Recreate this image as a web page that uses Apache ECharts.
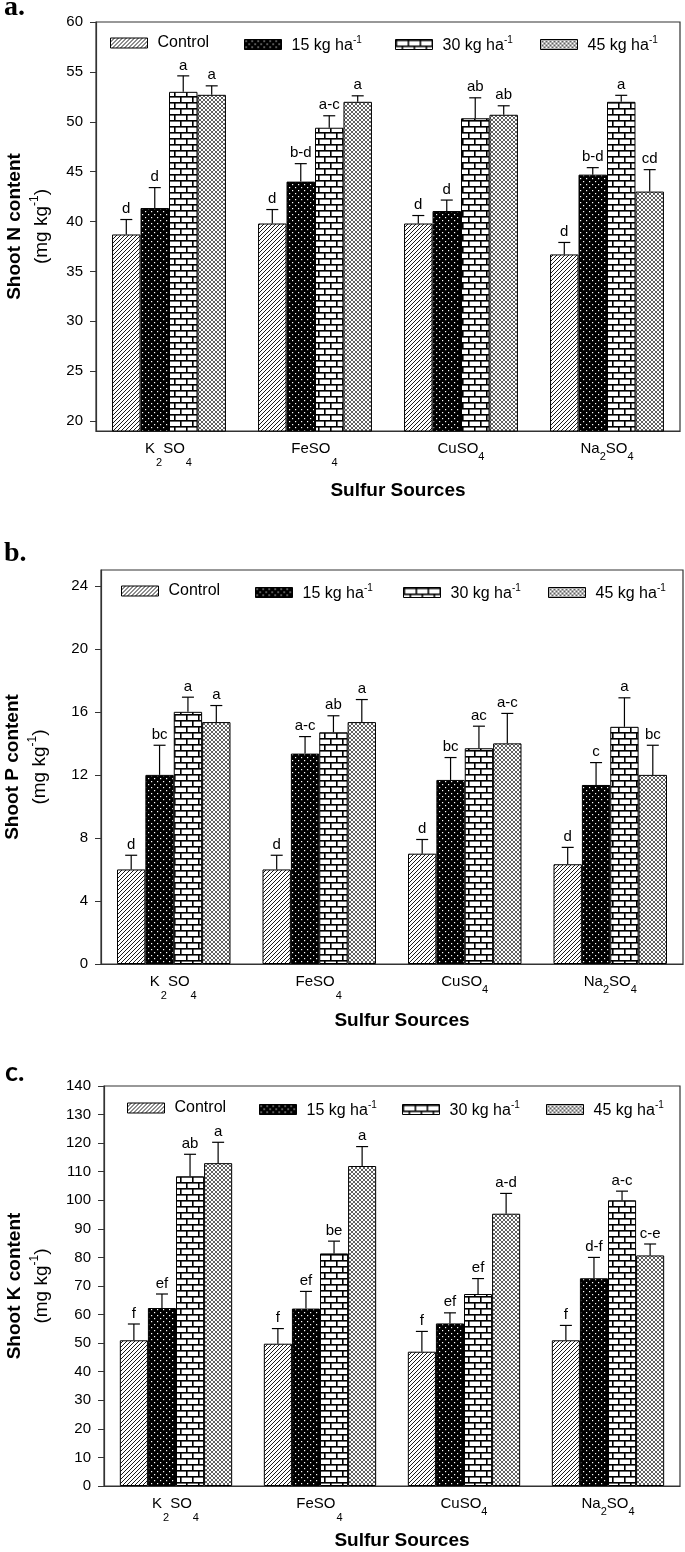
<!DOCTYPE html>
<html><head><meta charset="utf-8">
<script src="https://cdn.jsdelivr.net/npm/echarts@6/dist/echarts.min.js"></script>
<style>html,body{margin:0;padding:0;background:#fff}#c{width:685px;height:1552px}</style>
</head><body><div id="c"></div>
<script>
// ---------- data ----------
const categories = ['K2SO4', 'FeSO4', 'CuSO4', 'Na2SO4'];
const categoryLabels = ['{m|K}{lo|2}{m|SO}{lo|4}', '{m|FeSO}{lo|4}', '{m|CuSO}{sub|4}', '{m|Na}{sub|2}{m|SO}{sub|4}'];
const treatments = ['Control', '15 kg ha-1', '30 kg ha-1', '45 kg ha-1'];
const treatmentLabels = ['{t|Control}', '{t|15 kg ha}{s|-1}', '{t|30 kg ha}{s|-1}', '{t|45 kg ha}{s|-1}'];

// Panel a: Shoot N content (mean, top of error bar, letters)
const nControl = [38.7, 39.8, 39.8, 36.7];
const nControlErr = [40.2, 41.2, 40.6, 37.9];
const n15 = [41.35, 44.0, 41.05, 44.7];
const n15Err = [43.4, 45.8, 42.15, 45.4];
const n30 = [53.0, 49.4, 50.35, 52.0];
const n30Err = [54.6, 50.6, 52.4, 52.65];
const n45 = [52.7, 52.0, 50.7, 43.0];
const n45Err = [53.6, 52.6, 51.6, 45.2];
const nLetters = [['d','d','d','d'], ['d','b-d','d','b-d'], ['a','a-c','ab','a'], ['a','a','ab','cd']];
const nTicks = [20, 25, 30, 35, 40, 45, 50, 55, 60];

// Panel b: Shoot P content
const pControl = [6.0, 6.0, 7.0, 6.33];
const pControlErr = [6.9, 6.9, 7.9, 7.4];
const p15 = [12.0, 13.35, 11.68, 11.36];
const p15Err = [13.88, 14.43, 13.1, 12.78];
const p30 = [16.0, 14.7, 13.69, 15.05];
const p30Err = [16.93, 15.75, 15.09, 16.89];
const p45 = [15.35, 15.35, 14.0, 12.0];
const p45Err = [16.4, 16.78, 15.9, 13.88];
const pLetters = [['d','d','d','d'], ['bc','a-c','bc','c'], ['a','ab','ac','a'], ['a','a','a-c','bc']];
const pTicks = [0, 4, 8, 12, 16, 20, 24];

// Panel c: Shoot K content
const kControl = [51.0, 49.8, 47.0, 51.0];
const kControlErr = [56.7, 55.1, 54.1, 56.2];
const k15 = [62.3, 62.1, 56.9, 72.7];
const k15Err = [67.2, 68.1, 60.6, 80.0];
const k30 = [108.4, 81.4, 67.2, 100.0];
const k30Err = [116.1, 85.7, 72.6, 103.2];
const k45 = [113.0, 112.0, 95.3, 80.7];
const k45Err = [120.3, 118.8, 102.4, 84.7];
const kLetters = [['f','f','f','f'], ['ef','ef','ef','d-f'], ['ab','be','ef','a-c'], ['a','a','a-d','c-e']];
const kTicks = [0, 10, 20, 30, 40, 50, 60, 70, 80, 90, 100, 110, 120, 130, 140];

// ---------- patterns ----------
function tile(w, h, draw) {
  const c = document.createElement('canvas');
  c.width = w; c.height = h;
  const g = c.getContext('2d');
  draw(g, w, h);
  return { image: c, repeat: 'repeat' };
}
const patHatch = tile(4, 4, (g, w, h) => {
  g.fillStyle = '#fff'; g.fillRect(0, 0, w, h);
  g.strokeStyle = '#000'; g.lineWidth = 0.9;
  g.beginPath();
  g.moveTo(-1, 5); g.lineTo(5, -1);
  g.moveTo(-1, 1); g.lineTo(1, -1);
  g.moveTo(3, 5); g.lineTo(5, 3);
  g.stroke();
});
const patDots = tile(6, 6, (g, w, h) => {
  g.fillStyle = '#000'; g.fillRect(0, 0, w, h);
  g.fillStyle = '#fff';
  g.fillRect(1, 1, 1.2, 1.2);
  g.fillRect(4, 4, 1.2, 1.2);
});
const patBrick = tile(12, 12, (g, w, h) => {
  g.fillStyle = '#fff'; g.fillRect(0, 0, w, h);
  g.fillStyle = '#000';
  g.fillRect(0, 0, 12, 1.6);
  g.fillRect(0, 6, 12, 1.6);
  g.fillRect(0, 0, 1.6, 6);
  g.fillRect(6, 6, 1.6, 6);
});
const patMesh = tile(4, 4, (g, w, h) => {
  g.fillStyle = '#fff'; g.fillRect(0, 0, w, h);
  g.strokeStyle = '#3a3a3a'; g.lineWidth = 0.8;
  g.beginPath();
  g.moveTo(-1, 5); g.lineTo(5, -1);
  g.moveTo(-1, -1); g.lineTo(5, 5);
  g.moveTo(-1, 1); g.lineTo(1, -1);
  g.moveTo(3, 5); g.lineTo(5, 3);
  g.moveTo(3, -1); g.lineTo(5, 1);
  g.moveTo(-1, 3); g.lineTo(1, 5);
  g.stroke();
});
const patterns = [patHatch, patDots, patBrick, patMesh];

// ---------- layout ----------
const GAP = 0.22;
const FONT = 'Liberation Sans';
const panels = [
  { key: 'a', title: 'Shoot N content', grid: { left: 96, right: 5, top: 22, height: 409 },
    min: 19, max: 60, ticks: nTicks, nameGap: 41, xNameGap: 50,
    means: [nControl, n15, n30, n45], errs: [nControlErr, n15Err, n30Err, n45Err], letters: nLetters,
    legendLeft: [110, 244, 395, 540], legendY: 45,
    tag: 'a.', tagX: 4, tagY: 6, tagFont: 'bold 28px "Liberation Serif"' },
  { key: 'b', title: 'Shoot P content', grid: { left: 101, right: 2, top: 570, height: 394 },
    min: 0, max: 25, ticks: pTicks, nameGap: 48, xNameGap: 47,
    means: [pControl, p15, p30, p45], errs: [pControlErr, p15Err, p30Err, p45Err], letters: pLetters,
    legendLeft: [121, 255, 403, 548], legendY: 593,
    tag: 'b.', tagX: 4, tagY: 552, tagFont: 'bold 28px "Liberation Serif"' },
  { key: 'c', title: 'Shoot K content', grid: { left: 104, right: 5, top: 1086, height: 400 },
    min: 0, max: 140, ticks: kTicks, nameGap: 49, xNameGap: 45,
    means: [kControl, k15, k30, k45], errs: [kControlErr, k15Err, k30Err, k45Err], letters: kLetters,
    legendLeft: [127, 259, 402, 546], legendY: 1110,
    tag: 'c.', tagX: 5, tagY: 1071, tagFont: 'bold 27px "Lato"' }
];

function errRender(si, letters) {
  return function (params, api) {
    const cat = api.value(0), v = api.value(1), e = api.value(2);
    const band = api.size([1, 0])[0];
    const gw = band * (1 - GAP);
    const bw = gw / 4;
    const base = api.coord([cat, v]);
    const top = api.coord([cat, e]);
    const cx = base[0] - gw / 2 + bw * (si + 0.5);
    return {
      type: 'group',
      children: [
        { type: 'line', shape: { x1: cx, y1: base[1], x2: cx, y2: top[1] }, style: { stroke: '#000', lineWidth: 1.2 } },
        { type: 'line', shape: { x1: cx - 6, y1: top[1], x2: cx + 6, y2: top[1] }, style: { stroke: '#000', lineWidth: 1.2 } },
        { type: 'text', x: cx, y: top[1] - 3,
          style: { text: letters[params.dataIndex], align: 'center', verticalAlign: 'bottom',
                   font: '15px "' + FONT + '"', fill: '#000' } }
      ]
    };
  };
}

const option = {
  backgroundColor: '#fff',
  animation: false,
  textStyle: { fontFamily: FONT, color: '#000' },
  grid: [], xAxis: [], yAxis: [], series: [], legend: [], graphic: []
};

panels.forEach((p, pi) => {
  option.grid.push(Object.assign({ show: true, borderColor: '#333', borderWidth: 1.2, backgroundColor: 'transparent',
    containLabel: false, outerBoundsMode: 'none' }, p.grid));
  option.xAxis.push({
    type: 'category', gridIndex: pi, data: categories,
    name: 'Sulfur Sources', nameLocation: 'middle', nameGap: p.xNameGap,
    nameTextStyle: { fontFamily: FONT, fontWeight: 'bold', fontSize: 19, color: '#000', padding: [0, 0, 0, 20] },
    axisLine: { lineStyle: { color: '#333', width: 1.2 } },
    axisTick: { alignWithLabel: true, length: 5, lineStyle: { color: '#333' } },
    axisLabel: {
      interval: 0, margin: 10, color: '#000', fontSize: 15, fontFamily: FONT,
      formatter: (v, i) => categoryLabels[i],
      rich: {
        m: { fontSize: 15, fontFamily: FONT, color: '#000', verticalAlign: 'top' },
        lo: { fontSize: 11, fontFamily: FONT, color: '#000', verticalAlign: 'top', padding: [16, 1, 0, 1] },
        sub: { fontSize: 11, fontFamily: FONT, color: '#000', verticalAlign: 'top', padding: [10, 0, 0, 0] }
      }
    },
    splitLine: { show: false }
  });
  option.yAxis.push({
    type: 'value', gridIndex: pi, min: p.min, max: p.max,
    name: '{b|' + p.title + '}\n{n|(mg kg}{s|-1}{n|)}',
    nameLocation: 'middle', nameRotate: 90, nameGap: p.nameGap,
    nameTextStyle: {
      rich: {
        b: { fontFamily: FONT, fontWeight: 'bold', fontSize: 19, color: '#000', lineHeight: 28 },
        n: { fontFamily: FONT, fontSize: 19, color: '#000', lineHeight: 26 },
        s: { fontFamily: FONT, fontSize: 12, color: '#000', verticalAlign: 'top', padding: [0, 0, 6, 0] }
      }
    },
    axisLine: { show: true, lineStyle: { color: '#333', width: 1.2 } },
    axisTick: { show: true, length: 6, customValues: p.ticks, lineStyle: { color: '#333' } },
    axisLabel: { margin: 13, color: '#000', fontSize: 15, fontFamily: FONT, customValues: p.ticks },
    splitLine: { show: false }
  });
  for (let si = 0; si < 4; si++) {
    option.series.push({
      type: 'bar', name: treatments[si], xAxisIndex: pi, yAxisIndex: pi,
      data: p.means[si], barGap: '0%', barCategoryGap: (GAP * 100) + '%',
      itemStyle: { color: patterns[si], borderColor: '#000', borderWidth: 1 }
    });
  }
  for (let si = 0; si < 4; si++) {
    option.series.push({
      type: 'custom', name: 'err-' + p.key + si, xAxisIndex: pi, yAxisIndex: pi, z: 5,
      renderItem: errRender(si, p.letters[si]),
      encode: { x: 0, y: 2 },
      data: categories.map((c, ci) => [ci, p.means[si][ci], p.errs[si][ci]])
    });
  }
  for (let si = 0; si < 4; si++) {
    option.legend.push({
      data: [treatments[si]], left: p.legendLeft[si], top: p.legendY - 10, padding: 0,
      icon: 'rect', itemWidth: 37, itemHeight: 10, itemGap: 0, selectedMode: false,
      itemStyle: { borderColor: '#000', borderWidth: 1 },
      formatter: () => treatmentLabels[si],
      textStyle: {
        fontFamily: FONT, fontSize: 16, color: '#000',
        rich: {
          t: { fontFamily: FONT, fontSize: 16, color: '#000', padding: [0, 0, 0, 5], verticalAlign: 'bottom' },
          s: { fontFamily: FONT, fontSize: 10, color: '#000', verticalAlign: 'top', padding: [0, 0, 9, 0] }
        }
      }
    });
  }
  option.graphic.push({
    type: 'text', left: p.tagX, top: p.tagY - 12,
    style: { text: p.tag, font: p.tagFont, fill: '#000' }
  });
});

const chart = echarts.init(document.getElementById('c'), null, { renderer: 'canvas' });
chart.setOption(option);
</script>
</body></html>
